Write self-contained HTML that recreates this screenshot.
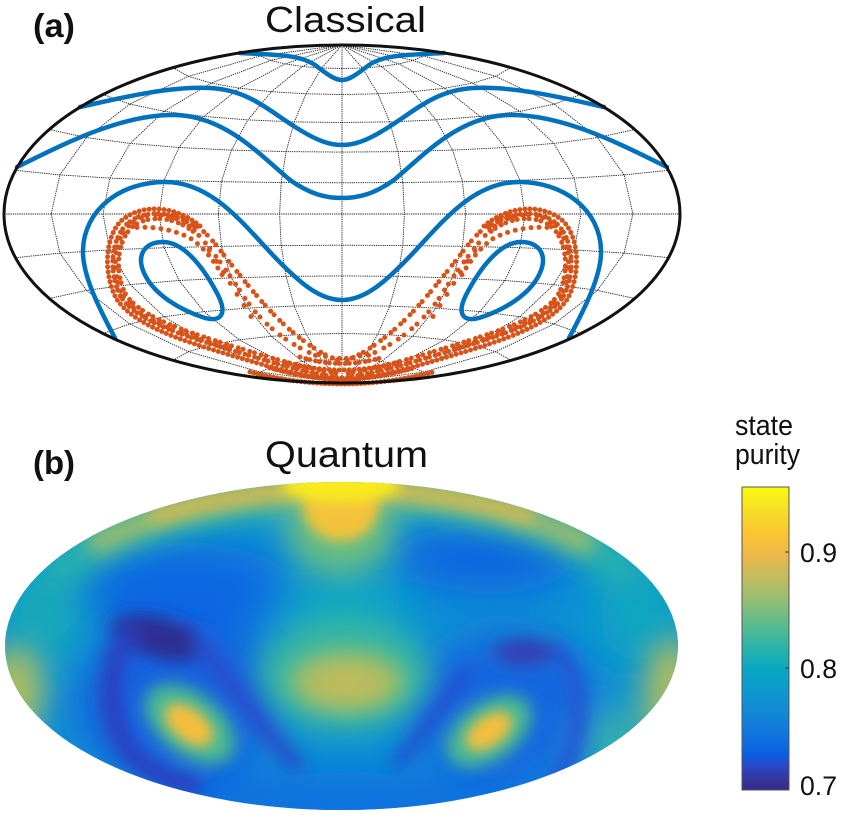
<!DOCTYPE html>
<html>
<head>
<meta charset="utf-8">
<style>
  html,body{margin:0;padding:0;background:#fff;}
  svg{display:block;}
  text{font-family:"Liberation Sans",Arial,sans-serif;fill:#111;}
</style>
</head>
<body>
<svg width="850" height="820" viewBox="0 0 850 820" xmlns="http://www.w3.org/2000/svg">
  <defs>
    <clipPath id="cb"><ellipse cx="341.5" cy="646" rx="336.5" ry="164"/></clipPath>
    <filter id="f22" filterUnits="userSpaceOnUse" x="-50" y="400" width="800" height="500"><feGaussianBlur stdDeviation="22"/></filter>
    <filter id="f15" filterUnits="userSpaceOnUse" x="-50" y="400" width="800" height="500"><feGaussianBlur stdDeviation="15"/></filter>
    <filter id="f10" filterUnits="userSpaceOnUse" x="-50" y="400" width="800" height="500"><feGaussianBlur stdDeviation="10"/></filter>
    <filter id="f8" filterUnits="userSpaceOnUse" x="-50" y="400" width="800" height="500"><feGaussianBlur stdDeviation="8"/></filter>
    <filter id="f6" filterUnits="userSpaceOnUse" x="-50" y="400" width="800" height="500"><feGaussianBlur stdDeviation="6"/></filter>
    <linearGradient id="par" x1="0" y1="1" x2="0" y2="0">
      <stop offset="0" stop-color="#352a87"/>
      <stop offset="0.04" stop-color="#33379e"/>
      <stop offset="0.08" stop-color="#2a48c8"/>
      <stop offset="0.12" stop-color="#0a60e2"/>
      <stop offset="0.18" stop-color="#0f75de"/>
      <stop offset="0.26" stop-color="#1489d6"/>
      <stop offset="0.34" stop-color="#0c9ccd"/>
      <stop offset="0.40" stop-color="#08a8c2"/>
      <stop offset="0.48" stop-color="#2fb5a4"/>
      <stop offset="0.56" stop-color="#64bd89"/>
      <stop offset="0.63" stop-color="#95be72"/>
      <stop offset="0.70" stop-color="#c2bc5e"/>
      <stop offset="0.77" stop-color="#eab84a"/>
      <stop offset="0.84" stop-color="#fbc334"/>
      <stop offset="0.92" stop-color="#f5dd27"/>
      <stop offset="1" stop-color="#f9fb0e"/>
    </linearGradient>
  </defs>

  <rect width="850" height="820" fill="#fff"/>

  <!-- ===== Panel (a) ===== -->
  <text x="33" y="37" font-size="33" font-weight="bold" textLength="42" lengthAdjust="spacingAndGlyphs">(a)</text>
  <text x="265" y="32" font-size="36" textLength="161" lengthAdjust="spacingAndGlyphs">Classical</text>

  <!-- grid -->
  <g fill="none" stroke="#222" stroke-width="0.9" stroke-dasharray="1.3 0.9" stroke-linejoin="round">
    <path d="M15.5,170.3 L59.9,174.9 L109.8,178.1 L164.1,180.3 L221.5,181.7 L281.2,182.5 L342,182.8 L402.8,182.5 L462.5,181.7 L519.9,180.3 L574.2,178.1 L624.1,174.9 L668.5,170.3"/>
    <path d="M15.5,257.7 L59.9,253.1 L109.8,249.9 L164.1,247.7 L221.5,246.3 L281.2,245.5 L342,245.2 L402.8,245.5 L462.5,246.3 L519.9,247.7 L574.2,249.9 L624.1,253.1 L668.5,257.7"/>
    <path d="M49.3,129.5 L86.5,137.6 L130.2,143.4 L179,147.5 L231.4,150.1 L286.1,151.6 L342,152.1 L397.9,151.6 L452.6,150.1 L505,147.5 L553.8,143.4 L597.5,137.6 L634.7,129.5"/>
    <path d="M49.3,298.5 L86.5,290.4 L130.2,284.6 L179,280.5 L231.4,277.9 L286.1,276.4 L342,275.9 L397.9,276.4 L452.6,277.9 L505,280.5 L553.8,284.6 L597.5,290.4 L634.7,298.5"/>
    <path d="M103,94.5 L129.8,104.1 L164.1,111.3 L204,116.4 L247.9,119.9 L294.3,121.9 L342,122.5 L389.7,121.9 L436.1,119.9 L480,116.4 L519.9,111.3 L554.2,104.1 L581,94.5"/>
    <path d="M103,333.5 L129.8,323.9 L164.1,316.7 L204,311.6 L247.9,308.1 L294.3,306.1 L342,305.5 L389.7,306.1 L436.1,308.1 L480,311.6 L519.9,316.7 L554.2,323.9 L581,333.5"/>
    <path d="M173,67.6 L188.4,76.3 L211.1,83.1 L239.3,88.2 L271.4,91.7 L306.1,93.8 L342,94.5 L377.9,93.8 L412.6,91.7 L444.7,88.2 L472.9,83.1 L495.6,76.3 L511,67.6"/>
    <path d="M173,360.4 L188.4,351.7 L211.1,344.9 L239.3,339.8 L271.4,336.3 L306.1,334.2 L342,333.5 L377.9,334.2 L412.6,336.3 L444.7,339.8 L472.9,344.9 L495.6,351.7 L511,360.4"/>
    <path d="M254.5,50.8 L260.2,56 L270.7,60.4 L285.1,63.9 L302.5,66.5 L321.7,68 L342,68.5 L362.3,68 L381.5,66.5 L399,63.9 L412.9,60.4 L423.8,56 L429.5,50.8"/>
    <path d="M254.5,377.2 L260.2,372 L270.7,367.6 L285.1,364.1 L302.5,361.5 L321.7,360 L342,359.5 L362.3,360 L381.5,361.5 L399,364.1 L412.9,367.6 L423.8,372 L429.5,377.2"/>
    <path d="M4,214 L680,214"/>
    <path d="M342,45 L342,383"/>
    <path d="M342,45 L362.3,68 L377.9,93.8 L389.7,121.9 L397.9,151.6 L402.8,182.5 L404.4,214 L402.8,245.5 L397.9,276.4 L389.7,306.1 L377.9,334.2 L362.3,360 L342,383"/>
    <path d="M342,45 L321.7,68 L306.1,93.8 L294.3,121.9 L286.1,151.6 L281.2,182.5 L279.6,214 L281.2,245.5 L286.1,276.4 L294.3,306.1 L306.1,334.2 L321.7,360 L342,383"/>
    <path d="M342,45 L381.5,66.5 L412.6,91.7 L436.1,119.9 L452.6,150.1 L462.5,181.7 L465.7,214 L462.5,246.3 L452.6,277.9 L436.1,308.1 L412.6,336.3 L381.5,361.5 L342,383"/>
    <path d="M342,45 L302.5,66.5 L271.4,91.7 L247.9,119.9 L231.4,150.1 L221.5,181.7 L218.3,214 L221.5,246.3 L231.4,277.9 L247.9,308.1 L271.4,336.3 L302.5,361.5 L342,383"/>
    <path d="M342,45 L398.9,63.9 L444.7,88.2 L480,116.4 L505,147.5 L519.9,180.3 L524.9,214 L519.9,247.7 L505,280.5 L480,311.6 L444.7,339.8 L398.9,364.1 L342,383"/>
    <path d="M342,45 L285.1,63.9 L239.3,88.2 L204,116.4 L179,147.5 L164.1,180.3 L159.1,214 L164.1,247.7 L179,280.5 L204,311.6 L239.3,339.8 L285.1,364.1 L342,383"/>
    <path d="M342,45 L413.3,60.4 L472.9,83.1 L519.9,111.3 L553.8,143.4 L574.2,178.1 L581,214 L574.2,249.9 L553.8,284.6 L519.9,316.7 L472.9,344.9 L413.3,367.6 L342,383"/>
    <path d="M342,45 L270.7,60.4 L211.1,83.1 L164.1,111.3 L130.2,143.4 L109.8,178.1 L103,214 L109.8,249.9 L130.2,284.6 L164.1,316.7 L211.1,344.9 L270.7,367.6 L342,383"/>
    <path d="M342,45 L423.8,56 L495.6,76.3 L554.2,104.1 L597.5,137.6 L624.1,174.9 L632.9,214 L624.1,253.1 L597.5,290.4 L554.2,323.9 L495.6,351.7 L423.8,372 L342,383"/>
    <path d="M342,45 L260.2,56 L188.4,76.3 L129.8,104.1 L86.5,137.6 L59.9,174.9 L51.1,214 L59.9,253.1 L86.5,290.4 L129.8,323.9 L188.4,351.7 L260.2,372 L342,383"/>
  </g>

  <!-- orange dots -->
  <g fill="none" stroke="#d95319" stroke-width="5" stroke-linecap="round">
    <path stroke-dasharray="0 5" d="M200,226 C175,205 140,203 120,222 C104,240 104,275 116,298 C133,325 180,340 230,355 C270,367 305,377 342,381"/>
    <path stroke-dasharray="0 6 0 4" stroke-dashoffset="2" d="M198,230 C175,210 142,208 125,226 C110,243 109,275 121,297 C138,322 182,335 231,350 C271,362 305,373 342,378"/>
    <path stroke-dasharray="0 7 0 5" stroke-dashoffset="3" d="M196,234 C175,215 145,214 130,229 C116,245 115,275 126,295 C142,318 185,331 232,346 C272,358 305,369 342,374"/>
    <path stroke-dasharray="0 9 0 6" stroke-dashoffset="5" d="M192,229 C172,210 142,210 127,228 C112,245 112,276 124,297 C140,321 184,334 231,349"/>
    <path stroke-dasharray="0 8" stroke-dashoffset="1" d="M130,228 C150,226 170,228 190,238 C205,248 215,262 225,280"/>
    <path stroke-dasharray="0 8 0 5" d="M175,214 C195,220 210,236 226,258 C248,285 270,315 300,338 C315,350 330,358 342,362"/>
    <path stroke-dasharray="0 10 0 7" stroke-dashoffset="4" d="M190,226 C208,244 228,272 246,300 C264,325 288,345 322,358"/>
    <path stroke-dasharray="0 13" stroke-dashoffset="6" d="M205,245 C220,265 235,292 252,318"/>

    <path stroke-dasharray="0 5" d="M484,226 C509,205 544,203 564,222 C580,240 580,275 568,298 C551,325 504,340 454,355 C414,367 379,377 342,381"/>
    <path stroke-dasharray="0 6 0 4" stroke-dashoffset="2" d="M486,230 C509,210 542,208 559,226 C574,243 575,275 563,297 C546,322 502,335 453,350 C413,362 379,373 342,378"/>
    <path stroke-dasharray="0 7 0 5" stroke-dashoffset="3" d="M488,234 C509,215 539,214 554,229 C568,245 569,275 558,295 C542,318 499,331 452,346 C412,358 379,369 342,374"/>
    <path stroke-dasharray="0 9 0 6" stroke-dashoffset="5" d="M492,229 C512,210 542,210 557,228 C572,245 572,276 560,297 C544,321 500,334 453,349"/>
    <path stroke-dasharray="0 8" stroke-dashoffset="1" d="M554,228 C534,226 514,228 494,238 C479,248 469,262 459,280"/>
    <path stroke-dasharray="0 8 0 5" d="M509,214 C489,220 474,236 458,258 C436,285 414,315 384,338 C369,350 354,358 342,362"/>
    <path stroke-dasharray="0 10 0 7" stroke-dashoffset="4" d="M494,226 C476,244 456,272 438,300 C420,325 396,345 362,358"/>
    <path stroke-dasharray="0 13" stroke-dashoffset="6" d="M479,245 C464,265 449,292 432,318"/>

    <path stroke-dasharray="0 4" d="M250,372 C290,382 320,384 342,384 C364,384 394,382 434,372"/>
    <path stroke-dasharray="0 4 0 3" d="M270,368 C300,376 320,379 342,379 C364,379 384,376 414,368"/>
    <path stroke-dasharray="0 5" d="M285,362 Q342,378 399,362"/>
    <path stroke-dasharray="0 6 0 4" d="M300,357 Q342,370 384,357"/>
    <path stroke-dasharray="0 7" stroke-dashoffset="3" d="M315,353 Q342,364 369,353"/>
  </g>

  <!-- blue contours -->
  <g fill="none" stroke="#0072bd" stroke-width="4.5" stroke-linecap="round" stroke-linejoin="round">
    <path d="M240,53 C280,55 300,55 315,65 C328,75 335,80 342,80 C349,80 356,75 369,65 C384,55 404,55 444,53"/>
    <path d="M80,107 C120,98 170,86 210,88 C250,90 270,112 300,130 C318,141 330,145 342,145 C354,145 366,141 384,130 C414,112 434,90 474,88 C514,86 564,98 604,107"/>
    <path d="M17,167 C60,146 120,114 175,115 C225,116 260,155 290,180 C310,194 325,198 342,198 C359,198 374,194 394,180 C424,155 459,116 509,115 C564,114 624,146 667,167"/>
    <path d="M115,338 C100,310 82,275 83,250 C84,210 120,182 165,182 C210,182 240,220 270,252 C300,284 320,300 342,300 C364,300 384,284 414,252 C444,220 474,182 519,182 C564,182 600,210 601,250 C602,275 584,310 569,338"/>
    <path d="M163,242 C185,242 205,270 218,295 C228,315 220,322 205,318 C180,310 155,295 145,275 C135,255 145,242 163,242 Z"/>
    <path d="M521,242 C499,242 479,270 466,295 C456,315 464,322 479,318 C504,310 529,295 539,275 C549,255 539,242 521,242 Z"/>
  </g>

  <ellipse cx="342" cy="214" rx="338" ry="169" fill="none" stroke="#111" stroke-width="3"/>

  <!-- ===== Panel (b) ===== -->
  <text x="33" y="474" font-size="33" font-weight="bold" textLength="42" lengthAdjust="spacingAndGlyphs">(b)</text>
  <text x="265" y="467" font-size="37" textLength="163" lengthAdjust="spacingAndGlyphs">Quantum</text>

  <g clip-path="url(#cb)">
    <rect x="0" y="470" width="700" height="350" fill="#0e92d3"/>
    <g filter="url(#f22)">
      <ellipse cx="180" cy="590" rx="115" ry="48" fill="#0a68e2"/>
      <ellipse cx="485" cy="558" rx="95" ry="34" fill="#0a64e2"/>
      <ellipse cx="341" cy="805" rx="200" ry="32" fill="#116ee0"/>
      <ellipse cx="175" cy="702" rx="100" ry="85" fill="#1462e0"/>
      <ellipse cx="505" cy="708" rx="95" ry="75" fill="#1766e0"/>
      <ellipse cx="45" cy="612" rx="40" ry="50" fill="#18acb8"/>
      <ellipse cx="640" cy="612" rx="40" ry="50" fill="#10a8bf"/>
      <ellipse cx="341" cy="612" rx="60" ry="45" fill="#08a8c2"/>
      <ellipse cx="620" cy="740" rx="40" ry="30" fill="#3ab6a2"/>
    </g>
    <g filter="url(#f15)">
      <path transform="translate(0,14)" d="M50,562 A336.5,164 0 0 1 633,562" stroke="#2cb5a8" stroke-width="36" fill="none"/>
      <ellipse cx="345" cy="675" rx="85" ry="55" fill="#40b99c"/>
      <ellipse cx="341" cy="530" rx="55" ry="45" fill="#6cbe80"/>
      <ellipse cx="15" cy="690" rx="30" ry="45" fill="#a8bd64"/>
      <ellipse cx="672" cy="695" rx="28" ry="58" fill="#a9bc62"/>
    </g>
    <g filter="url(#f10)">
      <path transform="translate(0,9)" d="M90,537 A336.5,164 0 0 1 593,537" stroke="#a6bd66" stroke-width="22" fill="none"/>
      <ellipse cx="347" cy="682" rx="55" ry="30" fill="#a8bc64"/>
      <ellipse cx="347" cy="684" rx="30" ry="16" fill="#bfbb5c"/>
    </g>
    <g filter="url(#f8)">
      <path transform="translate(0,6)" d="M150,511 A336.5,164 0 0 1 533,511" stroke="#e2ba4a" stroke-width="13" fill="none"/>
      <ellipse cx="160" cy="638" rx="50" ry="20" transform="rotate(15 160 638)" fill="#2f2f92"/>
      <path d="M135,630 C105,655 103,715 130,752 C148,772 170,782 200,787" stroke="#2a40c0" stroke-width="20" fill="none"/>
      <path d="M195,640 C225,670 255,725 300,768" stroke="#2a4dcc" stroke-width="16" fill="none"/>
      <ellipse cx="525" cy="652" rx="32" ry="13" fill="#3440b2"/>
      <path d="M555,648 C588,685 585,745 552,785" stroke="#2454d4" stroke-width="16" fill="none"/>
      <path d="M470,668 C445,700 420,740 395,765" stroke="#2450d2" stroke-width="13" fill="none"/>
      <ellipse cx="190" cy="724" rx="52" ry="31" transform="rotate(38 190 724)" fill="#4cba92"/>
      <ellipse cx="489" cy="731" rx="48" ry="29" transform="rotate(-35 489 731)" fill="#4cba92"/>
    </g>
    <g filter="url(#f6)">
      <ellipse cx="189" cy="725" rx="28" ry="16" transform="rotate(38 189 725)" fill="#f4bd3c"/>
      <ellipse cx="489" cy="731" rx="26" ry="15" transform="rotate(-35 489 731)" fill="#f4bd3c"/>
      <ellipse cx="341" cy="505" rx="38" ry="36" fill="#f3c23a"/>
      <ellipse cx="341" cy="485" rx="60" ry="17" fill="#f8ea1e"/>
    </g>
  </g>

  <!-- colorbar -->
  <text x="735" y="435" font-size="29" textLength="58" lengthAdjust="spacingAndGlyphs">state</text>
  <text x="735" y="464" font-size="29" textLength="65" lengthAdjust="spacingAndGlyphs">purity</text>
  <rect x="742" y="487" width="47" height="303" fill="url(#par)" stroke="#555" stroke-width="1"/>
  <g stroke="#333" stroke-width="1">
    <line x1="785" y1="552" x2="789" y2="552"/>
    <line x1="785" y1="668" x2="789" y2="668"/>
    <line x1="785" y1="784" x2="789" y2="784"/>
  </g>
  <text x="800" y="562" font-size="27" textLength="37" lengthAdjust="spacingAndGlyphs">0.9</text>
  <text x="800" y="678" font-size="27" textLength="37" lengthAdjust="spacingAndGlyphs">0.8</text>
  <text x="800" y="795" font-size="27" textLength="37" lengthAdjust="spacingAndGlyphs">0.7</text>
</svg>
</body>
</html>
